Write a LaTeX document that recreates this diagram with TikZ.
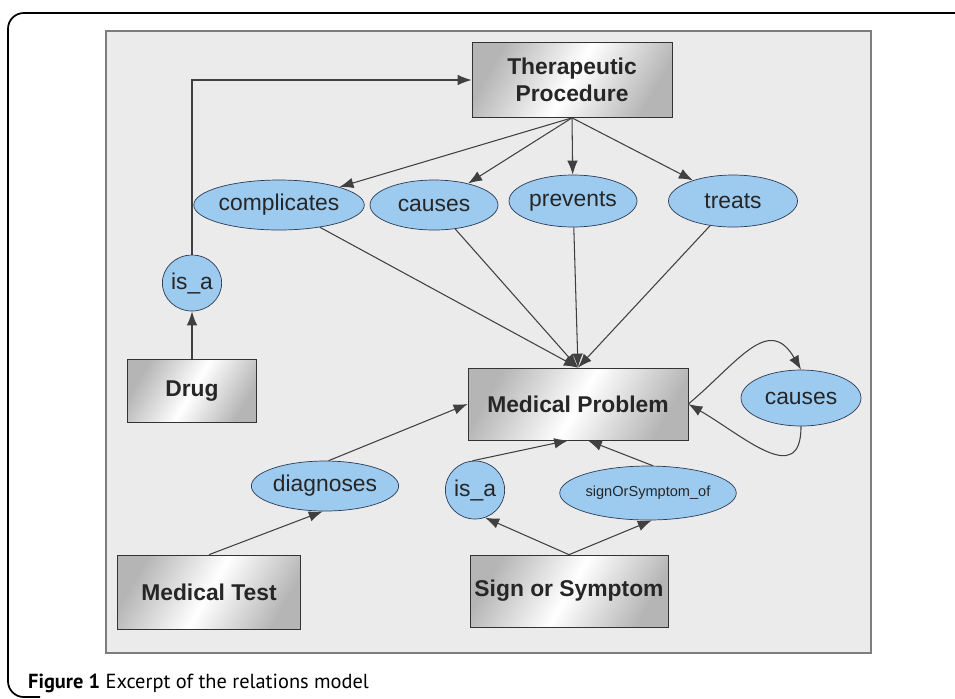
\documentclass[tikz,border=0pt]{standalone}
\usepackage{fontspec}
\setmainfont{Liberation Sans}
\newfontfamily\capfont{PT Sans}
\usepackage{tikz}
\usetikzlibrary{arrows,arrows.meta,shapes,calc}

\definecolor{relfill}{RGB}{157,203,239}
\definecolor{reldraw}{RGB}{44,58,86}
\definecolor{panelfill}{RGB}{235,235,235}
\definecolor{paneldraw}{RGB}{125,125,125}

\begin{document}
\begin{tikzpicture}[x=0.02cm, y=-0.02cm, >={Latex[length=8pt,width=6pt]},
    concept/.style={rectangle, draw=gray!40!black, inner sep=0pt, align=center,
        font=\fontsize{13}{15.5}\selectfont\bfseries, text=black!85,
        left color=gray!58, right color=gray!58, middle color=white, shading angle=60},
    relation/.style={ellipse, draw=reldraw, fill=relfill, inner sep=0pt,
        font=\fontsize{13}{15}\selectfont, text=black!85},
    link/.style={->, draw=black!75, line width=0.6pt}]
            \useasboundingbox (0,0) rectangle (955,698);
            % frame and panel
            \draw[line width=1pt, rounded corners=9pt] (955,13) -- (8,13) -- (8,697) -- (40,697);
            \draw[fill=panelfill, draw=paneldraw, line width=1.3pt] (106,31) rectangle (871,653);
            \node[anchor=west, font=\capfont\fontsize{11.6}{13}\selectfont] (cap) at (22,683) {\textbf{Figure 1} Excerpt of the relations model};
            % concepts
            \node[concept, minimum width=4cm, minimum height=1.5cm] (tp) at (572,80) {Therapeutic\\Procedure};
            \node[concept, minimum width=2.58cm, minimum height=1.26cm] (drug) at (192,391) {Drug};
            \node[concept, minimum width=4.4cm, minimum height=1.44cm] (mp) at (578,404) {Medical Problem};
            \node[concept, minimum width=3.66cm, minimum height=1.48cm] (mt) at (209,592) {Medical Test};
            \node[concept, minimum width=3.96cm, minimum height=1.44cm] (ss) at (569,591) {Sign or Symptom};
            % relations
            \node[relation, minimum width=2.94cm, minimum height=1cm] (compl) at (279,205) {complicates};
            \node[relation, minimum width=2.56cm, minimum height=1cm] (caus) at (434,205) {causes};
            \node[relation, minimum width=2.56cm, minimum height=1.04cm] (prev) at (573,201) {prevents};
            \node[relation, minimum width=2.58cm, minimum height=1.04cm] (treat) at (733,201) {treats};
            \node[relation, minimum width=1.12cm, minimum height=1.12cm] (isa) at (192,283) {is\_a};
            \node[relation, minimum width=2.4cm, minimum height=1.12cm] (causself) at (801,398) {causes};
            \node[relation, minimum width=2.94cm, minimum height=1cm] (diag) at (325,486) {diagnoses};
            \node[relation, minimum width=1.16cm, minimum height=1.16cm] (isb) at (475,490) {is\_a};
            \node[relation, minimum width=2.94cm, minimum height=1.08cm, font=\fontsize{8.3}{10}\selectfont] (sos) at (648,493) {signOrSymptom\_of};
            % connectors
            \draw[link] (drug) -- (isa);
            \draw[link] (isa) |- (tp);
            \draw[link] (tp.south) -- (compl);
            \draw[link] (tp.south) -- (caus);
            \draw[link] (tp.south) -- (prev);
            \draw[link] (tp.south) -- (treat);
            \draw[link] (compl) -- (mp.north);
            \draw[link] (caus) -- (mp.north);
            \draw[link] (prev) -- (mp.north);
            \draw[link] (treat) -- (mp.north);
            \draw[link] (mt.north) -- (diag.-95);
            \draw[link] (diag.82) -- (mp.west);
            \draw[link] (ss.north) -- (isb.-70);
            \draw[link] (ss.north) -- (sos.-82);
            \draw[link] (isb.95) -- (mp.-105);
            \draw[link] (sos.80) -- (mp.-75);
            \draw[link] (mp.east) to[out=40, in=120, looseness=1.4] (causself.north);
            \draw[link] (causself.south) to[out=-90, in=-30, looseness=1.4] (mp.east);
        \end{tikzpicture}
\end{document}
